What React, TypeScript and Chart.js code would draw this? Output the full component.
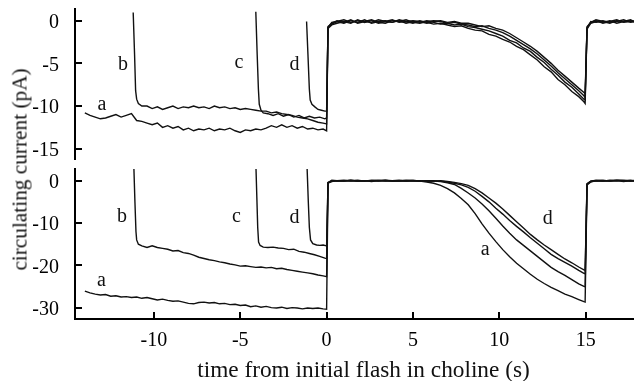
import React, { useEffect, useRef } from 'react';
import { Chart, registerables } from 'chart.js';

Chart.register(...registerables);

// ---------- axes ----------
const xTicks = [-10, -5, 0, 5, 10, 15];
const yTicksTop = [0, -5, -10, -15];
const yTicksBottom = [0, -10, -20, -30];
const X_MIN = -14.57;
const X_MAX = 17.8;
const TOP_MIN = -16.21;
const TOP_MAX = 1.37;
const BOT_MIN = -32.69;
const BOT_MAX = 2.76;

// ---------- shared time base after the initial flash (s) ----------
const postTimes = [0.08, 0.3, 0.6, 1.0, 1.4, 1.8, 2.2, 2.6, 3.0, 3.4, 3.8, 4.2, 4.6, 5.0, 5.4, 5.8, 6.2, 6.6,
  7.0, 7.4, 7.8, 8.2, 8.6, 9.0, 9.4, 9.8, 10.2, 10.6, 11.0, 11.4, 11.8, 12.2, 12.6, 13.0, 13.4, 13.8, 14.2, 14.6, 14.9, 14.97,
  15.08, 15.3, 15.6, 16.0, 16.4, 16.8, 17.2, 17.6, 17.9];

// ---------- trace a (both panels) before t = 0 ----------
const preTimesA = [-14.0, -13.7, -13.4, -13.1, -12.8, -12.5, -12.2, -11.9, -11.6, -11.3, -11.0, -10.7, -10.4, -10.1,
  -9.8, -9.5, -9.2, -8.9, -8.6, -8.3, -8.0, -7.7, -7.4, -7.1, -6.8, -6.5, -6.2, -5.9, -5.6, -5.3, -5.0, -4.7, -4.4,
  -4.1, -3.8, -3.5, -3.2, -2.9, -2.6, -2.3, -2.0, -1.7, -1.4, -1.1, -0.8, -0.5, -0.2, 0.0];
const topPreA = [-10.8, -11.1, -11.3, -11.5, -11.4, -11.2, -11.0, -11.3, -11.1, -10.9, -11.7, -11.8, -12.0, -12.2,
  -12.0, -12.5, -12.3, -12.6, -12.4, -12.8, -12.6, -12.9, -12.7, -12.8, -12.6, -12.9, -12.7, -12.8, -12.6, -12.9, -13.1,
  -12.8, -12.9, -12.7, -12.8, -12.6, -12.3, -12.5, -12.2, -12.5, -12.3, -12.6, -12.4, -12.7, -12.6, -12.8, -12.7, -12.9];
const botPreA = [-26.1, -26.5, -26.8, -27.0, -26.9, -27.3, -27.2, -27.5, -27.4, -27.6, -27.5, -27.8, -27.6, -27.9,
  -28.2, -28.0, -28.3, -28.5, -28.4, -28.7, -29.0, -29.1, -28.8, -28.7, -28.9, -28.8, -29.1, -29.0, -29.3, -29.2, -29.5,
  -29.4, -29.8, -29.6, -29.9, -29.7, -30.0, -30.1, -29.9, -30.2, -30.0, -30.1, -30.3, -30.1, -30.2, -30.1, -30.3, -30.4];

// ---------- trace b before t = 0 ----------
const topPreTimesB = [-11.2, -11.12, -11.06, -11.0, -10.9, -10.7, -10.4, -10.1, -9.8, -9.5, -9.2, -8.9, -8.6, -8.3,
  -8.0, -7.7, -7.4, -7.1, -6.8, -6.5, -6.2, -5.9, -5.6, -5.3, -5.0, -4.7, -4.4, -4.1, -3.8, -3.5, -3.2, -2.9, -2.6,
  -2.3, -2.0, -1.7, -1.4, -1.1, -0.8, -0.5, -0.2, 0.0];
const topPreB = [0.95, -4.0, -8.2, -9.2, -9.7, -10.0, -10.0, -10.3, -10.1, -10.4, -10.2, -10.0, -10.3, -10.1,
  -10.2, -10.0, -10.2, -10.1, -10.3, -10.0, -10.2, -10.1, -10.3, -10.2, -10.4, -10.3, -10.4, -10.5, -10.6, -10.6,
  -10.8, -10.7, -10.9, -11.0, -11.1, -11.3, -11.4, -11.5, -11.7, -11.9, -12.0, -12.1];
const botPreTimesB = [-11.16, -11.1, -11.04, -11.0, -10.9, -10.7, -10.4, -10.1, -9.8, -9.5, -9.2, -8.9, -8.6, -8.3,
  -8.0, -7.7, -7.4, -7.1, -6.8, -6.5, -6.2, -5.9, -5.6, -5.3, -5.0, -4.7, -4.4, -4.1, -3.8, -3.5, -3.2, -2.9, -2.6,
  -2.3, -2.0, -1.7, -1.4, -1.1, -0.8, -0.5, -0.2, 0.0];
const botPreB = [3.0, -5.0, -12.0, -14.0, -15.0, -15.4, -15.8, -15.4, -15.8, -16.0, -16.2, -16.6, -16.5, -17.0,
  -17.2, -17.6, -18.1, -18.4, -18.7, -18.9, -19.2, -19.4, -19.7, -19.9, -20.2, -20.1, -20.3, -20.5, -20.4, -20.6,
  -20.5, -20.8, -20.7, -21.0, -21.2, -21.4, -21.6, -21.8, -22.0, -22.3, -22.5, -22.7];

// ---------- trace c before t = 0 ----------
const topPreTimesC = [-4.1, -4.02, -3.95, -3.9, -3.8, -3.67, -3.4, -3.1, -2.8, -2.5, -2.2, -1.9, -1.6, -1.3, -1.0,
  -0.7, -0.4, -0.1, 0.0];
const topPreC = [1.05, -4.0, -8.0, -9.8, -10.5, -10.8, -10.9, -11.1, -10.9, -11.2, -11.0, -11.3, -11.1, -11.4,
  -11.2, -11.4, -11.3, -11.5, -11.4];
const botPreTimesC = [-4.09, -4.04, -3.99, -3.94, -3.85, -3.67, -3.4, -3.1, -2.8, -2.5, -2.2, -1.9, -1.6, -1.3,
  -1.0, -0.7, -0.4, -0.1, 0.0];
const botPreC = [3.0, -4.0, -11.0, -14.5, -15.3, -15.7, -15.8, -15.7, -15.9, -16.0, -16.3, -16.2, -16.7, -16.9,
  -17.2, -17.5, -17.9, -18.3, -18.4];

// ---------- trace d before t = 0 ----------
const topPreTimesD = [-1.16, -1.08, -1.0, -0.95, -0.85, -0.68, -0.5, -0.3, -0.1, 0.0];
const topPreD = [-0.1, -4.0, -8.0, -9.3, -9.8, -10.1, -10.4, -10.5, -10.6, -10.6];
const botPreTimesD = [-1.13, -1.06, -1.0, -0.93, -0.8, -0.58, -0.4, -0.2, 0.0];
const botPreD = [3.0, -5.0, -11.0, -14.0, -14.9, -15.2, -15.3, -15.2, -15.4];

// ---------- upper panel after t = 0 (values at postTimes) ----------
const topPostA = [-0.9, -0.5, -0.3, -0.1, -0.3, 0.1, -0.2, 0.0, -0.3, -0.1, 0.1, -0.2, -0.1, -0.3, 0.0, -0.2, -0.4, -0.3,
  -0.5, -0.7, -0.6, -0.9, -1.1, -1.2, -1.6, -1.8, -2.2, -2.5, -3.0, -3.4, -4.0, -4.6, -5.4, -6.0, -6.9, -7.5, -8.3, -8.9, -9.5, -9.7,
  -1.0, -0.3, -0.1, -0.2, 0.0, -0.3, -0.1, 0.0, -0.2];
const topPostB = [-0.8, -0.4, -0.1, -0.3, 0.0, -0.2, 0.1, -0.3, -0.1, 0.0, -0.2, 0.0, -0.3, -0.1, -0.2, 0.0, -0.2, -0.4,
  -0.3, -0.5, -0.4, -0.7, -0.8, -1.0, -1.2, -1.5, -1.8, -2.3, -2.6, -3.2, -3.6, -4.3, -4.9, -5.7, -6.4, -7.2, -7.8, -8.6, -9.2, -9.3,
  -0.8, -0.2, 0.0, -0.3, -0.1, 0.1, -0.2, -0.1, 0.0];
const topPostC = [-0.7, -0.3, 0.0, -0.2, 0.1, -0.3, -0.1, 0.1, -0.2, -0.3, 0.0, -0.1, 0.1, -0.2, -0.3, -0.1, 0.0, -0.1,
  -0.3, -0.2, -0.4, -0.5, -0.7, -0.6, -0.9, -1.1, -1.4, -1.8, -2.3, -2.8, -3.3, -3.9, -4.6, -5.3, -6.1, -6.8, -7.5, -8.2, -8.8, -9.0,
  -0.9, -0.1, -0.2, 0.0, -0.2, -0.1, 0.1, -0.2, -0.1];
const topPostD = [-0.8, -0.2, -0.1, 0.1, -0.2, 0.0, -0.1, -0.2, 0.1, -0.1, -0.2, 0.1, -0.1, 0.0, -0.1, -0.3, -0.1, 0.0,
  -0.2, -0.1, -0.3, -0.3, -0.5, -0.7, -0.6, -0.9, -1.1, -1.5, -2.0, -2.5, -3.0, -3.6, -4.3, -5.0, -5.8, -6.5, -7.2, -7.9, -8.4, -8.6,
  -0.7, -0.2, 0.1, -0.1, -0.3, 0.0, -0.1, 0.1, -0.2];

// ---------- lower panel after t = 0 (values at postTimes) ----------
const botPostA = [-0.6, -0.2, 0.0, -0.1, 0.1, -0.1, 0.0, -0.2, 0.0, 0.1, -0.1, 0.0, -0.1, 0.0, -0.1, -0.3,
  -0.6, -1.1, -1.9, -2.9, -4.2, -5.7, -7.8, -10.2, -12.4, -14.4, -16.3, -18.0, -19.5, -20.8, -22.1, -23.3, -24.3, -25.2,
  -26.0, -26.8, -27.4, -28.1, -28.6, -28.7,
  -1.0, -0.3, 0.0, -0.1, 0.1, 0.0, -0.2, 0.0, -0.1];
const botPostB = [-0.5, -0.1, 0.0, 0.1, -0.1, 0.0, -0.1, 0.1, 0.0, -0.1, 0.0, 0.1, -0.1, 0.0, 0.0, -0.1,
  -0.1, -0.2, -0.5, -0.9, -1.8, -2.9, -4.1, -5.5, -7.1, -8.9, -10.7, -12.4, -14.0, -15.3, -16.6, -17.9, -19.2, -20.5,
  -21.5, -22.4, -23.4, -24.4, -25.0, -25.1,
  -0.9, -0.2, 0.0, 0.1, -0.1, 0.0, 0.1, -0.1, 0.0];
const botPostC = [-0.4, 0.0, -0.1, 0.0, 0.1, -0.1, 0.0, 0.0, -0.1, 0.1, 0.0, -0.1, 0.0, 0.1, -0.1, 0.0,
  0.0, -0.1, -0.3, -0.6, -1.0, -1.6, -2.5, -3.7, -5.0, -6.5, -7.9, -9.4, -10.8, -12.1, -13.5, -14.8, -16.1, -17.4,
  -18.4, -19.3, -20.2, -21.2, -21.9, -22.0,
  -0.8, -0.1, 0.0, -0.1, 0.0, 0.1, 0.0, -0.1, 0.1];
const botPostD = [-0.5, 0.1, 0.0, -0.1, 0.0, 0.1, -0.1, 0.0, 0.1, 0.0, -0.1, 0.0, 0.1, 0.0, -0.1, 0.0,
  -0.1, 0.0, -0.2, -0.4, -0.7, -1.1, -1.9, -2.9, -4.1, -5.3, -6.7, -8.2, -9.7, -11.2, -12.7, -14.0, -15.2, -16.3,
  -17.4, -18.5, -19.4, -20.4, -21.1, -21.2,
  -0.7, -0.1, 0.1, 0.0, -0.1, 0.1, 0.0, 0.1, -0.1];

// ---------- trace letters (data coordinates of the text baseline) ----------
const topLabelText = ['a', 'b', 'c', 'd'];
const topLabelX = [-13.01, -11.79, -5.08, -1.86];
const topLabelY = [-10.47, -5.78, -5.58, -5.78];
const botLabelText = ['a', 'b', 'c', 'd', 'd', 'a'];
const botLabelX = [-13.04, -11.85, -5.22, -1.86, 12.81, 9.19];
const botLabelY = [-25.0, -9.67, -9.8, -10.05, -10.2, -17.5];

const FONT = "'Liberation Serif', 'Times New Roman', Times, serif";
const INK = '#111';

function joinSeries(preT: number[], preV: number[], postV: number[]) {
  const a = preT.map((x, i) => ({ x, y: preV[i] }));
  const b = postTimes.map((x, i) => ({ x, y: postV[i] }));
  return a.concat(b);
}

const inwardTicks = {
  id: 'inwardTicks',
  afterDraw(chart: any) {
    const { ctx, chartArea: a } = chart;
    ctx.save();
    ctx.strokeStyle = '#000';
    ctx.lineWidth = 2;
    const ys = chart.scales.y;
    ys.ticks.forEach((tk: any) => {
      const p = Math.round(ys.getPixelForValue(tk.value));
      ctx.beginPath();
      ctx.moveTo(a.left, p);
      ctx.lineTo(a.left + 7, p);
      ctx.stroke();
    });
    const xs = chart.scales.x;
    if (xs.options.display) {
      xs.ticks.forEach((tk: any) => {
        const p = Math.round(xs.getPixelForValue(tk.value));
        ctx.beginPath();
        ctx.moveTo(p, a.bottom);
        ctx.lineTo(p, a.bottom - 7);
        ctx.stroke();
      });
    }
    ctx.restore();
  },
};

function makeLabelPlugin(text: string[], xs: number[], ys: number[]) {
  return {
    id: 'traceLabels',
    afterDatasetsDraw(chart: any) {
      const { ctx } = chart;
      const sx = chart.scales.x;
      const sy = chart.scales.y;
      ctx.save();
      ctx.fillStyle = INK;
      ctx.font = `20px ${FONT}`;
      ctx.textAlign = 'center';
      ctx.textBaseline = 'alphabetic';
      text.forEach((s, i) => ctx.fillText(s, sx.getPixelForValue(xs[i]), sy.getPixelForValue(ys[i])));
      ctx.restore();
    },
  };
}

function xScale(display: boolean) {
  return {
    type: 'linear',
    min: X_MIN,
    max: X_MAX,
    display,
    grid: { display: false },
    border: { display, color: '#000', width: 2 },
    ticks: {
      font: { family: FONT, size: 20 },
      color: '#000',
      padding: 2,
      maxRotation: 0,
      autoSkip: false,
      callback: (v: any) => String(v),
    },
    afterBuildTicks: (s: any) => { s.ticks = xTicks.map((v) => ({ value: v })); },
    afterFit: (s: any) => { s.paddingLeft = 0; s.paddingRight = 0; if (display) s.height = 62; },
  };
}

function yScale(min: number, max: number, ticks: number[]) {
  return {
    type: 'linear',
    min,
    max,
    grid: { display: false },
    border: { display: true, color: '#000', width: 2 },
    ticks: {
      font: { family: FONT, size: 20 },
      color: '#000',
      padding: 8,
      labelOffset: 2,
      autoSkip: false,
      callback: (v: any) => String(v),
    },
    afterBuildTicks: (s: any) => { s.ticks = ticks.map((v) => ({ value: v })); },
    afterFit: (s: any) => { s.width = 75; s.paddingTop = 0; s.paddingBottom = 0; },
  };
}

function ds(data: { x: number; y: number }[]) {
  return {
    data,
    borderColor: INK,
    borderWidth: 1.4,
    pointRadius: 0,
    fill: false,
    tension: 0,
  };
}

export default function App() {
  const topRef = useRef<HTMLCanvasElement>(null);
  const botRef = useRef<HTMLCanvasElement>(null);

  useEffect(() => {
    const top = new Chart(topRef.current as HTMLCanvasElement, {
      type: 'line',
      data: {
        datasets: [
          ds(joinSeries(preTimesA, topPreA, topPostA)),
          ds(joinSeries(topPreTimesB, topPreB, topPostB)),
          ds(joinSeries(topPreTimesC, topPreC, topPostC)),
          ds(joinSeries(topPreTimesD, topPreD, topPostD)),
        ],
      },
      options: {
        responsive: false,
        animation: false,
        events: [],
        layout: { padding: { top: 9, bottom: 6, left: 0, right: 0 } },
        plugins: { legend: { display: false }, tooltip: { enabled: false } },
        scales: { x: xScale(false), y: yScale(TOP_MIN, TOP_MAX, yTicksTop) } as any,
      },
      plugins: [inwardTicks, makeLabelPlugin(topLabelText, topLabelX, topLabelY)],
    } as any);

    const bot = new Chart(botRef.current as HTMLCanvasElement, {
      type: 'line',
      data: {
        datasets: [
          ds(joinSeries(preTimesA, botPreA, botPostA)),
          ds(joinSeries(botPreTimesB, botPreB, botPostB)),
          ds(joinSeries(botPreTimesC, botPreC, botPostC)),
          ds(joinSeries(botPreTimesD, botPreD, botPostD)),
        ],
      },
      options: {
        responsive: false,
        animation: false,
        events: [],
        layout: { padding: { top: 4, bottom: 0, left: 0, right: 0 } },
        plugins: { legend: { display: false }, tooltip: { enabled: false } },
        scales: { x: xScale(true), y: yScale(BOT_MIN, BOT_MAX, yTicksBottom) } as any,
      },
      plugins: [inwardTicks, makeLabelPlugin(botLabelText, botLabelX, botLabelY)],
    } as any);

    return () => {
      top.destroy();
      bot.destroy();
    };
  }, []);

  return (
    <div style={{ position: 'absolute', left: 0, top: 0, width: 634, height: 381, overflow: 'hidden', background: '#fff' }}>
      <canvas ref={topRef} width={634} height={165} style={{ position: 'absolute', left: 0, top: 0, width: 634, height: 165 }} />
      <canvas ref={botRef} width={634} height={216} style={{ position: 'absolute', left: 0, top: 165, width: 634, height: 216 }} />
      <div
        style={{
          position: 'absolute',
          left: 20 - 130,
          top: 169.7 - 10.5,
          width: 260,
          height: 21,
          lineHeight: '21px',
          fontSize: 21.3,
          fontFamily: FONT,
          color: INK,
          textAlign: 'center',
          whiteSpace: 'nowrap',
          transform: 'rotate(-90deg)',
        }}
      >
        circulating current (pA)
      </div>
      <div
        style={{
          position: 'absolute',
          left: 163.5,
          top: 357.5,
          width: 400,
          height: 23,
          lineHeight: '23px',
          fontSize: 23.3,
          fontFamily: FONT,
          color: INK,
          textAlign: 'center',
          whiteSpace: 'nowrap',
        }}
      >
        time from initial flash in choline (s)
      </div>
    </div>
  );
}
